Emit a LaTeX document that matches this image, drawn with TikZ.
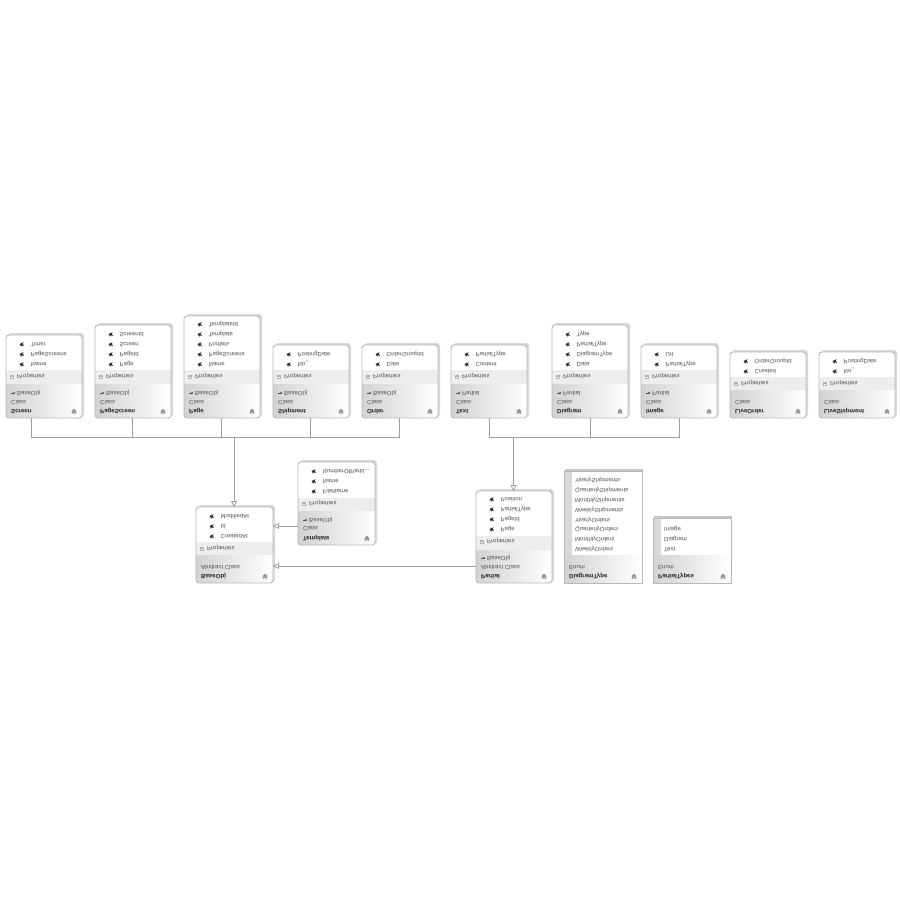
\documentclass[tikz,border=0pt]{standalone}
\usepackage{fontspec}
\setmainfont{Liberation Sans}
\usetikzlibrary{arrows.meta}
\definecolor{edgeg}{gray}{0.72}
\definecolor{bandg}{gray}{0.93}
\definecolor{txtg}{gray}{0.33}
\definecolor{connc}{gray}{0.62}
\tikzset{
  x=1pt,y=-1pt,
  boxnode/.style={inner sep=0pt,outer sep=0pt,anchor=north west},
  ftext/.style={yshift=5pt,yscale=-1,anchor=base west,inner sep=0pt,font=\fontsize{6.0}{6.0}\selectfont,text=txtg},
  ftitle/.style={ftext,font=\fontsize{6.1}{6.1}\selectfont\bfseries,text=black!85},
  conn/.style={draw=connc,line width=0.8pt},
  inherit/.style={conn,-{Triangle[open,length=6pt,width=6pt,fill=white]}},
}
% rounded class box: name, x, top, right, bottom, bandtop, bandbottom
\newcommand{\classbox}[7]{%
  \fill[gray!30,rounded corners=3pt] (#2+2,#3-2) rectangle (#4+2,#5-1);
  \node[boxnode,minimum width=#4pt-#2pt,minimum height=#5pt-#3pt,fill=white,rounded corners=3pt] (#1) at (#2,#3) {};
  \begin{scope}
    \clip[rounded corners=3pt] (#2,#3) rectangle (#4,#5);
    \fill[bandg] (#2,#6) rectangle (#4,#7);
    \shade[left color=gray!35,right color=white] (#2,#7) rectangle (#4,#5);
  \end{scope}
  \draw[edgeg,line width=0.9pt,rounded corners=3pt] (#2,#3) rectangle (#4,#5);
  \fill[gray!18] (#4-8,#5-6) circle (3pt);
  \draw[gray!60!black,line width=0.5pt] (#4-10,#5-4.5) -- (#4-8,#5-6.5) -- (#4-6,#5-4.5)
     (#4-10,#5-6.5) -- (#4-8,#5-8.5) -- (#4-6,#5-6.5);
}
% enum box: name,x,top,right,bottom,list bottom
\newcommand{\enumbox}[6]{%
  \fill[gray!45] (#2+1,#3-2) rectangle (#4+1,#5);
  \node[boxnode,minimum width=#4pt-#2pt,minimum height=#5pt-#3pt,fill=white] (#1) at (#2,#3) {};
  \fill[gray!30] (#2,#3) rectangle (#2+8,#6);
  \shade[left color=gray!35,right color=white] (#2,#6) rectangle (#4,#5);
  \draw[edgeg,line width=0.9pt] (#2,#3) rectangle (#4,#5);
  \fill[gray!18] (#4-8,#5-6) circle (3pt);
  \draw[gray!60!black,line width=0.5pt] (#4-10,#5-4.5) -- (#4-8,#5-6.5) -- (#4-6,#5-4.5)
     (#4-10,#5-6.5) -- (#4-8,#5-8.5) -- (#4-6,#5-6.5);
}
% x, baseline y, text
\newcommand{\proprow}[3]{%
  \fill[black!80] (#1+13.5,#2-3) -- (#1+17.5,#2-4.8) -- (#1+16.8,#2-3.2) -- (#1+18,#2-0.8) -- (#1+15.8,#2-1.8) -- (#1+15.2,#2-0.2) -- cycle;
  \node[ftext] at (#1+24.5,#2) {#3};
}
% x, y
\newcommand{\propband}[2]{%
  \draw[gray!60,line width=0.3pt,fill=white] (#1+4.5,#2-4) rectangle (#1+7.5,#2-1);
  \draw[gray!60,line width=0.3pt] (#1+5,#2-2.5) -- (#1+7,#2-2.5);
  \node[ftext] at (#1+11,#2) {Properties};
}
\newcommand{\baserow}[3]{%
  \draw[txtg,line width=0.45pt,-{Stealth[length=2.4pt,width=2.4pt]}] (#1+5,#2-3) -- (#1+9.5,#2-3);
  \node[ftext] at (#1+11,#2) {#3};
}
\begin{document}
\begin{tikzpicture}
\useasboundingbox (0,0) rectangle (900,900);
\fill[white] (0,0) rectangle (900,900);

% class boxes of the top row
\classbox{screen}{6}{335}{82}{418}{370}{384}
\classbox{pagescreen}{95}{325}{171}{418}{370}{384}
\classbox{page}{184}{316}{260}{418}{370}{384}
\classbox{shipment}{273}{345}{349}{418}{370}{384}
\classbox{order}{362}{345}{438}{418}{370}{384}
\classbox{text}{451}{345}{527}{418}{370}{384}
\classbox{diagram}{552}{325}{628}{418}{370}{384}
\classbox{image}{641}{345}{717}{418}{370}{384}
\classbox{liveorder}{730}{352}{806}{418}{377}{390}
\classbox{liveshipment}{819}{352}{895}{418}{377}{390}
% lower row
\classbox{baseobj}{196}{507}{273}{583}{542}{555}
\classbox{template}{298}{462}{375}{545}{498}{511}
\classbox{partial}{476}{491}{552}{583}{536}{550}
\enumbox{diagramtype}{564}{471}{642}{583}{555}
\enumbox{partialtypes}{653}{518}{731}{583}{555}

% junction points
\coordinate (busleft) at (234,437);
\coordinate (busright) at (513.5,437);

% connectors
\draw[conn] ([xshift=25pt]screen.south west) |- (busleft);
\draw[conn] ([xshift=37pt]pagescreen.south west) |- (busleft);
\draw[conn] ([xshift=37pt]page.south west) |- (busleft);
\draw[conn] ([xshift=37.5pt]shipment.south west) |- (busleft);
\draw[conn] ([xshift=37pt]order.south west) |- (busleft);
\draw[inherit] (busleft) -- ([xshift=38pt]baseobj.north west);
\draw[conn] ([xshift=38pt]text.south west) |- (busright);
\draw[conn] ([xshift=38pt]diagram.south west) |- (busright);
\draw[conn] ([xshift=38pt]image.south west) |- (busright);
\draw[inherit] (busright) -- ([xshift=37.5pt]partial.north west);
\draw[inherit] ([yshift=19pt]template.south west) -- ([yshift=57pt]baseobj.south east) ;
\draw[inherit] ([yshift=17pt]partial.south west) -- ([yshift=17pt]baseobj.south east);

% Screen
\node[ftitle] at (11,414) {Screen};
\node[ftext] at (11,405) {Class};
\baserow{6}{396}{BaseObj}
\propband{6}{379}
\proprow{6}{367}{Name}
\proprow{6}{357}{PageScreens}
\proprow{6}{347}{Timer}
% PageScreen
\node[ftitle] at (100,414) {PageScreen};
\node[ftext] at (100,405) {Class};
\baserow{95}{396}{BaseObj}
\propband{95}{379}
\proprow{95}{367}{Page}
\proprow{95}{357}{PageId}
\proprow{95}{347}{Screen}
\proprow{95}{337}{ScreenId}
% Page
\node[ftitle] at (189,414) {Page};
\node[ftext] at (189,405) {Class};
\baserow{184}{396}{BaseObj}
\propband{184}{379}
\proprow{184}{367}{Name}
\proprow{184}{357}{PageScreens}
\proprow{184}{347}{Portlets}
\proprow{184}{337}{Template}
\proprow{184}{327}{TemplateId}
% Shipment
\node[ftitle] at (278,414) {Shipment};
\node[ftext] at (278,405) {Class};
\baserow{273}{396}{BaseObj}
\propband{273}{379}
\proprow{273}{367}{No\_}
\proprow{273}{357}{PostingDate}
% Order
\node[ftitle] at (367,414) {Order};
\node[ftext] at (367,405) {Class};
\baserow{362}{396}{BaseObj}
\propband{362}{379}
\proprow{362}{367}{Date}
\proprow{362}{357}{OrderGroupId}
% Text
\node[ftitle] at (456,414) {Text};
\node[ftext] at (456,405) {Class};
\baserow{451}{396}{Partial}
\propband{451}{379}
\proprow{451}{367}{Content}
\proprow{451}{357}{PartialType}
% Diagram
\node[ftitle] at (557,414) {Diagram};
\node[ftext] at (557,405) {Class};
\baserow{552}{396}{Partial}
\propband{552}{379}
\proprow{552}{367}{Data}
\proprow{552}{357}{DiagramType}
\proprow{552}{347}{PartialType}
\proprow{552}{337}{Type}
% Image
\node[ftitle] at (646,414) {Image};
\node[ftext] at (646,405) {Class};
\baserow{641}{396}{Partial}
\propband{641}{379}
\proprow{641}{367}{PartialType}
\proprow{641}{357}{Url}
% LiveOrder
\node[ftitle] at (735,414) {LiveOrder};
\node[ftext] at (735,405) {Class};
\propband{730}{386}
\proprow{730}{374}{Created}
\proprow{730}{364}{OrderGroupId}
% LiveShipment
\node[ftitle] at (824,414) {LiveShipment};
\node[ftext] at (824,405) {Class};
\propband{819}{386}
\proprow{819}{374}{No\_}
\proprow{819}{364}{PostingDate}
% BaseObj
\node[ftitle] at (201,579) {BaseObj};
\node[ftext] at (201,570) {Abstract Class};
\propband{196}{551}
\proprow{196}{539}{CreatedAt}
\proprow{196}{529}{Id}
\proprow{196}{519}{ModifiedAt}
% Template
\node[ftitle] at (303,541) {Template};
\node[ftext] at (303,531) {Class};
\baserow{298}{523}{BaseObj}
\propband{298}{506}
\proprow{298}{494}{FileName}
\proprow{298}{484}{Name}
\proprow{298}{474}{NumberOfPartit...}
% Partial
\node[ftitle] at (481,579) {Partial};
\node[ftext] at (481,570) {Abstract Class};
\baserow{476}{561}{BaseObj}
\propband{476}{544}
\proprow{476}{532}{Page}
\proprow{476}{522}{PageId}
\proprow{476}{512}{PartialType}
\proprow{476}{502}{Position}
% DiagramType
\node[ftitle] at (569,579) {DiagramType};
\node[ftext] at (569,570) {Enum};
\node[ftext] at (575,552) {WeeklyOrders};
\node[ftext] at (575,542) {MonthlyOrders};
\node[ftext] at (575,532) {QuarterlyOrders};
\node[ftext] at (575,523) {YearlyOrders};
\node[ftext] at (575,513) {WeeklyShipments};
\node[ftext] at (575,503) {MonthlyShipments};
\node[ftext] at (575,493) {QuarterlyShipments};
\node[ftext] at (575,483) {YearlyShipments};
% PartialTypes
\node[ftitle] at (658,579) {PartialTypes};
\node[ftext] at (658,570) {Enum};
\node[ftext] at (664,552) {Text};
\node[ftext] at (664,542) {Diagram};
\node[ftext] at (664,532) {Image};
\end{tikzpicture}
\end{document}
